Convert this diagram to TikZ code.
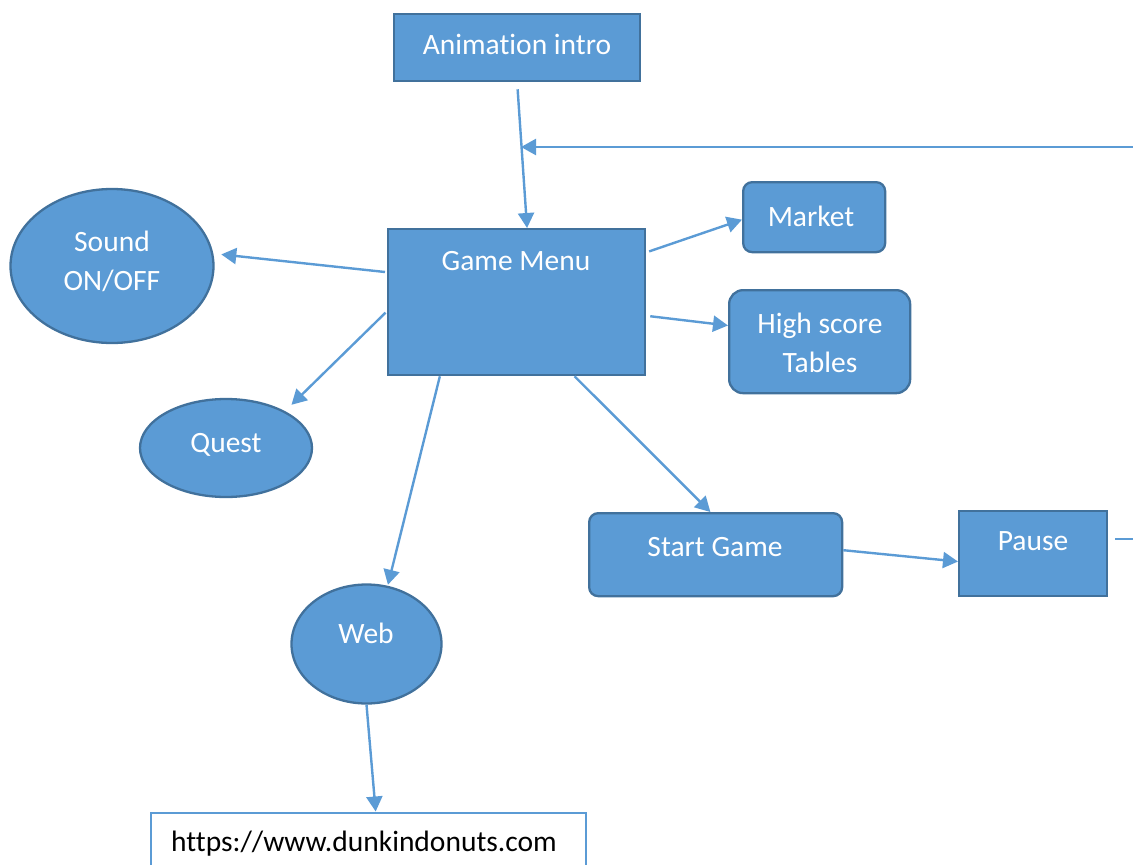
\documentclass[tikz,border=0pt]{standalone}
\usepackage{fontspec}
\setmainfont[Ligatures=CommonOff]{Carlito}
\usetikzlibrary{shapes.geometric,arrows.meta}
\definecolor{fillb}{HTML}{5B9BD5}
\definecolor{edgeb}{HTML}{41719C}
\tikzset{
  x=1pt,y=-1pt,
  box/.style={draw=edgeb,fill=fillb,line width=2.3pt,inner sep=0pt,anchor=north west},
  rbox/.style={box,rounded corners=9pt},
  oval/.style={box,ellipse,anchor=center},
  conn/.style={draw=fillb,line width=2.4pt,-{Triangle[length=15pt,width=16pt]}},
  lbl/.style={text=white,font=\fontsize{29.5}{39}\selectfont,align=center,inner sep=0pt}
}
\begin{document}
\begin{tikzpicture}
\useasboundingbox (0,0) rectangle (1133,865);
\clip (0,0) rectangle (1133,865);
\node[box,minimum width=246pt,minimum height=67pt] (intro) at (393,13) {};
\node[lbl] (introlbl) at (517,44) {Animation intro};
\node[box,minimum width=257pt,minimum height=146pt] (menu) at (387,228) {};
\node[lbl] (menulbl) at (516,261) {Game Menu};
\node[rbox,minimum width=142pt,minimum height=70pt] (market) at (742,181) {};
\node[lbl] (marketlbl) at (811,216) {Market};
\node[rbox,rounded corners=14pt,minimum width=181pt,minimum height=103pt] (score) at (728,289) {};
\node[lbl] (scorelbl) at (820,343) {High score\\Tables};
\node[oval,minimum width=203pt,minimum height=154pt] (sound) at (112,266) {};
\node[lbl] (soundlbl) at (112,261) {Sound\\ON/OFF};
\node[oval,minimum width=172pt,minimum height=98pt] (quest) at (226,448) {};
\node[lbl] (questlbl) at (226,445) {Quest};
\node[oval,minimum width=150pt,minimum height=119pt] (web) at (366.5,644) {};
\node[lbl] (weblbl) at (366,633) {Web};
\node[rbox,minimum width=253pt,minimum height=83pt] (start) at (588,512) {};
\node[lbl] (startlbl) at (715,547) {Start Game};
\node[box,minimum width=148pt,minimum height=85pt] (pause) at (958,510) {};
\node[lbl] (pauselbl) at (1033,541) {Pause};
\node[draw=fillb,line width=2.3pt,fill=white,minimum width=435pt,minimum height=70pt,anchor=north west,inner sep=0pt] (url) at (150,811.5) {};
\node[text=black,font=\fontsize{29.5}{39}\selectfont,inner sep=0pt] (urllbl) at (364,843.5) {https://www.dunkindonuts.com};
\coordinate (backstart) at (1133,147);
\coordinate (backend) at (521,147);
\coordinate (pausestub) at (1115,539);
\coordinate (pauseoff) at (1133,539);
\draw[conn,shorten <=7pt] (intro.south) -- (menu.82.6);
\draw[conn] (backstart) -- (backend);
\draw[draw=fillb,line width=2.4pt] (pausestub) -- (pauseoff);
\draw[conn,shorten <=3pt] (menu.21.6) -- (market.182.8);
\draw[conn,shorten <=4pt] (menu.354.5) -- (score.170.6);
\draw[conn,shorten <=2pt,shorten >=8pt] (menu.167) -- (sound.7.5);
\draw[conn,shorten <=2pt,shorten >=9pt] (menu.184.8) -- (quest.32);
\draw[conn,shorten >=1pt] (menu.224.5) -- (web.70);
\draw[conn] (menu.308.2) -- (start.97);
\draw[conn] (start.2) -- (pause.186.55);
\draw[conn] (web.south) -- (url.79.5);
\end{tikzpicture}
\end{document}
